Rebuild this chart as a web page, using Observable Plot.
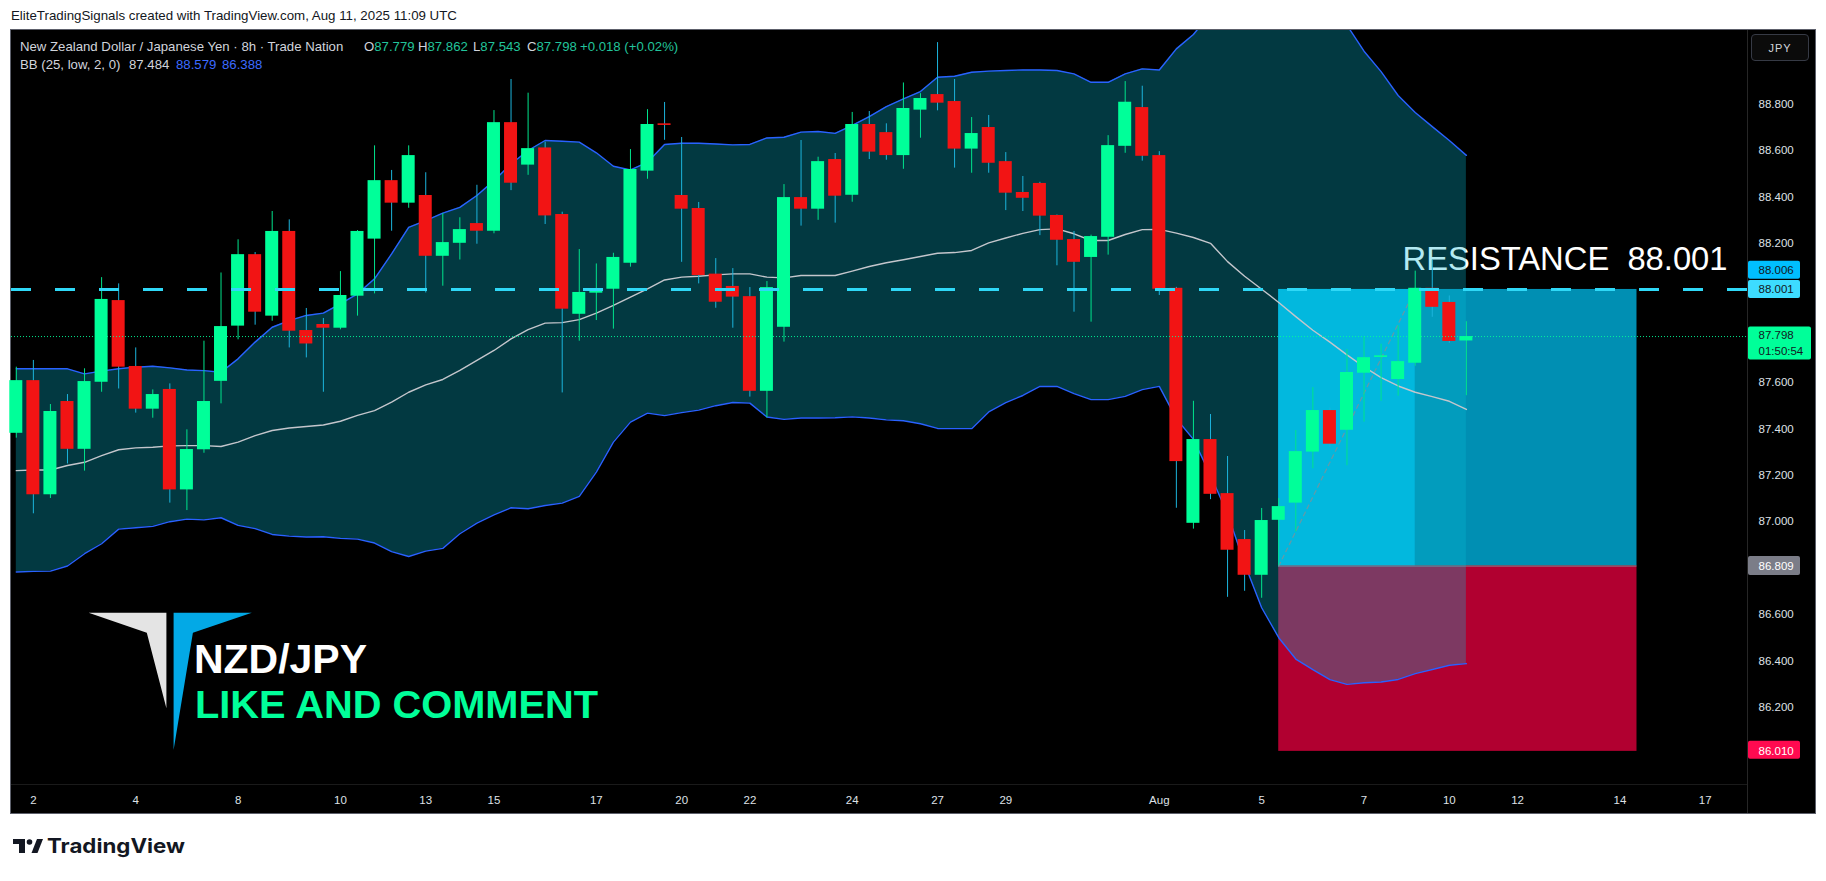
<!DOCTYPE html>
<html><head><meta charset="utf-8">
<script src="https://cdn.jsdelivr.net/npm/d3@7"></script>
<script src="https://cdn.jsdelivr.net/npm/@observablehq/plot@0.6"></script>
<style>
html,body{margin:0;padding:0;background:#fff;}
#page{position:relative;width:1826px;height:881px;overflow:hidden;background:#fff;font-family:"Liberation Sans",Arial,sans-serif;}
#title{position:absolute;left:11px;top:8px;font-size:13.3px;color:#131722;white-space:nowrap;}
#panel{position:absolute;left:10px;top:29px;width:1804px;height:783px;border:1px solid #5d606b;background:#000;}
#panel svg{position:absolute;left:0;top:0;}
.lg{position:absolute;font-size:13.2px;white-space:nowrap;color:#d1d4dc;line-height:14px;}
.v{color:#22c49b;}
.b{color:#3d6bff;}
#jpy{position:absolute;left:1751px;top:34px;width:58px;height:27px;border:1px solid #363a45;border-radius:4px;color:#d1d4dc;font-size:11px;letter-spacing:1px;text-align:center;line-height:27px;box-sizing:border-box;background:#0b0b0b;}
.sep{position:absolute;background:#262626;}
#overlay{position:absolute;left:0;top:0;}
</style></head>
<body>
<div id="page">
  <div id="title">EliteTradingSignals created with TradingView.com, Aug 11, 2025 11:09 UTC</div>
  <div id="panel"></div>
  <div class="sep" style="left:1747px;top:30px;width:1px;height:783px;"></div>
  <div class="sep" style="left:11px;top:784px;width:1736px;height:1px;background:#1a1a1a;"></div>
  <div class="lg" style="left:20px;top:40px;">New Zealand Dollar / Japanese Yen · 8h · Trade Nation</div>
  <div class="lg" style="left:364px;top:40px;">O<span class="v">87.779</span></div>
  <div class="lg" style="left:418px;top:40px;">H<span class="v">87.862</span></div>
  <div class="lg" style="left:473px;top:40px;">L<span class="v">87.543</span></div>
  <div class="lg" style="left:527px;top:40px;">C<span class="v">87.798</span></div>
  <div class="lg v" style="left:580px;top:40px;">+0.018 (+0.02%)</div>
  <div class="lg" style="left:20px;top:58px;">BB (25, low, 2, 0)</div>
  <div class="lg" style="left:129px;top:58px;">87.484</div>
  <div class="lg b" style="left:176px;top:58px;">88.579</div>
  <div class="lg b" style="left:222px;top:58px;">86.388</div>
  <div id="jpy">JPY</div>
  <svg id="overlay" width="1826" height="881">
    <polygon points="88.6,612.7 166.4,612.7 166.4,708.3 146.8,632.7" fill="#e4e4e4"/>
    <polygon points="173.6,612.7 251.8,612.7 192.9,632.7 173.6,750" fill="#03a9e6"/>
    <text x="194" y="673" font-family="Liberation Sans, Arial, sans-serif" font-size="40" font-weight="700" fill="#ffffff" textLength="173" lengthAdjust="spacingAndGlyphs">NZD/JPY</text>
    <text x="195" y="718" font-family="Liberation Sans, Arial, sans-serif" font-size="39" font-weight="700" fill="#00ff99" textLength="403" lengthAdjust="spacingAndGlyphs">LIKE AND COMMENT</text>
    <g fill="#131722">
      <path d="M13,839 H25 V853 H19 V844 H13 Z"/>
      <circle cx="29.5" cy="842" r="2.8"/>
      <path d="M37,839 H43 L37.5,853 H31.5 Z"/>
      <text x="47" y="853" font-family="Inter, Liberation Sans, Arial, sans-serif" font-size="20" font-weight="700" textLength="138" lengthAdjust="spacingAndGlyphs">TradingView</text>
    </g>
  </svg>
</div>
<script>
// ---------- data ----------
const opens  = [87.381,87.608,87.116,87.518,87.312,87.601,87.953,87.669,87.485,87.570,87.137,87.310,87.605,87.843,88.151,87.886,88.251,87.824,87.850,87.834,87.972,88.218,88.470,88.373,88.406,88.144,88.200,88.285,88.252,88.720,88.537,88.611,88.324,87.894,87.985,88.002,88.114,88.511,88.711,88.406,88.350,88.067,88.014,87.970,87.562,87.838,88.397,88.347,88.561,88.407,88.712,88.677,88.578,88.774,88.841,88.811,88.606,88.699,88.552,88.419,88.458,88.320,88.216,88.139,88.226,88.618,88.785,88.578,88.006,86.993,87.354,87.121,86.923,86.769,87.006,87.080,87.300,87.479,87.394,87.640,87.708,87.613,87.683,88.006,87.945,87.779];
const highs  = [87.666,87.695,87.505,87.548,87.659,88.052,88.025,87.749,87.568,87.594,87.396,87.778,88.072,88.215,88.160,88.337,88.301,87.919,87.876,88.078,88.255,88.620,88.514,88.620,88.504,88.328,88.310,88.450,88.772,88.906,88.847,88.636,88.334,88.173,88.111,88.157,88.604,88.776,88.807,88.656,88.376,88.134,88.091,88.009,88.035,88.453,88.643,88.571,88.587,88.764,88.768,88.715,88.891,88.845,89.065,88.906,88.742,88.751,88.591,88.488,88.463,88.322,88.251,88.235,88.664,88.897,88.877,88.595,88.010,87.519,87.462,87.281,86.962,87.057,87.100,87.393,87.578,87.490,87.742,87.797,87.765,87.844,88.080,88.128,87.973,87.862];
const lows   = [87.360,87.034,87.100,87.249,87.218,87.558,87.572,87.468,87.446,87.080,87.048,87.295,87.508,87.784,87.847,87.864,87.749,87.706,87.558,87.827,87.886,87.982,88.252,88.351,87.986,88.015,88.128,88.196,88.241,88.427,88.493,88.281,87.555,87.778,87.867,87.830,88.097,88.476,88.644,88.118,88.025,87.920,87.834,87.537,87.447,87.774,88.274,88.299,88.287,88.377,88.561,88.558,88.519,88.653,88.771,88.524,88.502,88.502,88.341,88.337,88.233,88.103,87.903,87.860,88.149,88.588,88.554,87.975,87.058,86.968,87.095,86.674,86.700,86.670,86.811,86.955,87.228,87.320,87.241,87.429,87.519,87.541,87.670,87.881,87.769,87.543];
const closes = [87.608,87.116,87.475,87.312,87.604,87.958,87.666,87.485,87.548,87.137,87.311,87.518,87.841,88.151,87.903,88.251,87.821,87.766,87.834,87.975,88.251,88.470,88.373,88.578,88.144,88.203,88.259,88.252,88.720,88.459,88.608,88.318,87.916,87.988,88.002,88.139,88.518,88.712,88.708,88.347,88.061,87.946,87.968,87.562,88.009,88.397,88.347,88.552,88.403,88.712,88.593,88.578,88.781,88.824,88.804,88.606,88.673,88.545,88.416,88.394,88.317,88.213,88.118,88.229,88.621,88.808,88.575,88.002,87.259,87.354,87.118,86.877,86.769,87.005,87.065,87.302,87.479,87.334,87.643,87.707,87.712,87.690,88.006,87.924,87.777,87.798];

const bbUpper  = [87.659,87.659,87.659,87.659,87.637,87.649,87.659,87.666,87.670,87.663,87.654,87.651,87.644,87.702,87.774,87.838,87.867,87.889,87.899,87.939,87.982,88.047,88.154,88.269,88.298,88.330,88.355,88.406,88.470,88.542,88.600,88.643,88.640,88.636,88.590,88.532,88.516,88.549,88.626,88.631,88.631,88.628,88.624,88.626,88.654,88.657,88.679,88.682,88.674,88.708,88.746,88.789,88.822,88.854,88.916,88.920,88.937,88.942,88.945,88.947,88.947,88.945,88.930,88.894,88.894,88.930,88.952,88.947,89.038,89.10,89.19,89.21,89.30,89.37,89.39,89.36,89.29,89.23,89.14,89.028,88.940,88.837,88.764,88.703,88.643,88.579];
const bbMiddle = [87.220,87.223,87.223,87.242,87.256,87.285,87.310,87.318,87.321,87.327,87.328,87.328,87.324,87.343,87.371,87.393,87.404,87.410,87.417,87.433,87.458,87.479,87.515,87.558,87.590,87.613,87.652,87.695,87.738,87.788,87.828,87.856,87.858,87.871,87.899,87.932,87.968,88.004,88.042,88.054,88.058,88.064,88.068,88.068,88.054,88.051,88.061,88.061,88.061,88.080,88.100,88.116,88.129,88.143,88.157,88.160,88.169,88.202,88.223,88.243,88.259,88.262,88.241,88.212,88.212,88.238,88.259,88.260,88.244,88.225,88.200,88.121,88.058,88.002,87.945,87.884,87.825,87.774,87.719,87.667,87.621,87.585,87.558,87.539,87.519,87.484];
const bbLower  = [86.783,86.786,86.787,86.809,86.862,86.905,86.968,86.974,86.980,87.000,87.011,87.008,87.017,86.984,86.970,86.945,86.938,86.934,86.935,86.928,86.925,86.908,86.871,86.850,86.873,86.885,86.948,86.994,87.029,87.060,87.056,87.070,87.080,87.109,87.214,87.343,87.429,87.468,87.457,87.470,87.481,87.500,87.514,87.511,87.451,87.441,87.447,87.447,87.448,87.452,87.447,87.439,87.435,87.422,87.402,87.401,87.401,87.473,87.513,87.544,87.583,87.583,87.552,87.526,87.526,87.540,87.569,87.583,87.444,87.355,87.200,87.034,86.819,86.629,86.500,86.408,86.362,86.319,86.299,86.306,86.309,86.320,86.345,86.363,86.381,86.388];

const timeTickIndex  = [1,7,13,19,24,28,34,39,43,49,54,58,67,73,79,84,88,94,99];
const timeTickLabels = ["2","4","8","10","13","15","17","20","22","24","27","29","Aug","5","7","10","12","14","17"];
const priceTicks = [88.8,88.6,88.4,88.2,87.6,87.4,87.2,87.0,86.6,86.4,86.2];

const tagPrices = [88.006, 88.001, 87.798, 86.809, 86.010];
const tagTexts  = ["88.006", "88.001", "87.798", "86.809", "86.010"];
const countdownText = "01:50:54";

const resistanceLevel = 88.001;
const resistanceLabel = "RESISTANCE  88.001";
const currentPrice = 87.798;

const positionEntry = 86.809, positionTarget = 88.001, positionStop = 86.010;
const positionStartIndex = 74, positionHitIndex = 82, positionEndIndex = 95;

// ---------- layout ----------
const W = 1804, H = 783, MR = 68, MB = 29;
const plotW = W - MR, plotH = H - MB;
const xDomain = [-0.2814, 101.478];
const yDomain = [85.8672, 89.1172];
const pxToIdx = px => xDomain[0] + px * (xDomain[1] - xDomain[0]) / plotW;
const ppu = plotH / (yDomain[1] - yDomain[0]);
const dPrice = px => px / ppu;

const candles = opens.map((o, i) => ({i, o, h: highs[i], l: lows[i], c: closes[i], up: closes[i] >= o}));
const bb = bbUpper.map((u, i) => ({i, u, m: bbMiddle[i], lo: bbLower[i]}));

const tagStyle = [
  {bg: "#00bfff", fg: "#131722", shift: -18, top: -9, bottom: 9, right: 1789},
  {bg: "#3ddcff", fg: "#131722", shift: 0, top: -9, bottom: 9, right: 1789},
  {bg: "#00ff99", fg: "#131722", shift: 0, top: -9.5, bottom: 23.5, right: 1800},
  {bg: "#7b7d88", fg: "#ffffff", shift: 0, top: -9.5, bottom: 9.5, right: 1789},
  {bg: "#ff0a50", fg: "#ffffff", shift: 0, top: -10, bottom: 8, right: 1789}
];
const tags = tagPrices.map((p, k) => ({p, text: tagTexts[k], ...tagStyle[k]}));
const minBody = dPrice(1.6);
const bodyHalf = 6.5 / (plotW / (xDomain[1] - xDomain[0]));

const chart = Plot.plot({
  width: W, height: H,
  marginTop: 0, marginLeft: 0, marginRight: MR, marginBottom: MB,
  style: {background: "transparent", color: "#dfe1e6", fontSize: "11.5px", fontFamily: "Liberation Sans, Arial, sans-serif", overflow: "visible"},
  x: {type: "linear", domain: xDomain, ticks: timeTickIndex,
      tickFormat: d => timeTickLabels[timeTickIndex.indexOf(d)], tickSize: 0, tickPadding: 11, label: null},
  y: {type: "linear", domain: yDomain, ticks: priceTicks, tickFormat: d => d.toFixed(3),
      axis: "right", tickSize: 0, tickPadding: 11, label: null},
  marks: [
    // position tool
    Plot.rect([0], {x1: positionStartIndex, x2: positionEndIndex, y1: positionEntry, y2: positionTarget, fill: "#008fb3"}),
    Plot.rect([0], {x1: positionStartIndex, x2: positionHitIndex, y1: positionEntry, y2: positionTarget, fill: "#00b7e3"}),
    Plot.rect([0], {x1: positionStartIndex, x2: positionEndIndex, y1: positionStop, y2: positionEntry, fill: "#b10030"}),
    Plot.ruleY([positionEntry], {x1: positionStartIndex, x2: positionEndIndex, stroke: "#8c8f99", strokeWidth: 1}),
    Plot.line([[positionStartIndex, positionEntry], [positionHitIndex, positionTarget]],
      {x: d => d[0], y: d => d[1], stroke: "#8a8d96", strokeWidth: 1.3, strokeDasharray: "4,4"}),
    // resistance label
    Plot.text([resistanceLevel], {y: d => d, text: () => resistanceLabel, frameAnchor: "right", textAnchor: "end",
      dx: -20, dy: -30, fill: "#ffffff", fontSize: 33, fontFamily: "Liberation Sans, Arial, sans-serif"}),
    // Bollinger band fill and lines
    Plot.areaY(bb, {x: "i", y1: "lo", y2: "u", fill: "rgb(7,186,213)", fillOpacity: 0.305, clip: true}),
    Plot.line(bb, {x: "i", y: "m", stroke: "#c4c6cc", strokeWidth: 1.4, clip: true}),
    Plot.line(bb, {x: "i", y: "u", stroke: "#2962ff", strokeWidth: 1.4, clip: true}),
    Plot.line(bb, {x: "i", y: "lo", stroke: "#2962ff", strokeWidth: 1.4, clip: true}),
    // candles
    Plot.ruleX(candles, {x: "i", y1: "l", y2: "h", stroke: d => d.up ? "#00e48c" : "#1cb4dc", strokeWidth: 1}),
    Plot.rect(candles, {x1: d => d.i - bodyHalf, x2: d => d.i + bodyHalf,
      y1: d => Math.min(d.o, d.c), y2: d => Math.max(Math.max(d.o, d.c), Math.min(d.o, d.c) + minBody),
      fill: d => d.up ? "#00ff99" : "#f21414"}),
    // price lines
    Plot.ruleY([currentPrice], {stroke: "#00ff99", strokeWidth: 1, strokeDasharray: "1,2", strokeOpacity: 0.9}),
    Plot.ruleY([resistanceLevel], {stroke: "#2fd8f7", strokeWidth: 3, strokeDasharray: "20,24"}),
    // price tags on the axis
    Plot.rect(tags, {x1: pxToIdx(plotW + 1), x2: d => pxToIdx(d.right - 0),
      y1: d => d.p - dPrice(d.shift + d.bottom), y2: d => d.p - dPrice(d.shift + d.top), fill: "bg", rx: 2}),
    Plot.text(tags, {y: d => d.p - dPrice(d.shift + (d.bottom > 15 ? -1 : 0)), text: "text", frameAnchor: "right", dx: 11,
      textAnchor: "start", fill: "fg", fontSize: 11.5}),
    Plot.text(tags.filter(d => d.bottom > 15), {y: d => d.p - dPrice(15), text: () => countdownText, frameAnchor: "right", dx: 11,
      textAnchor: "start", fill: "fg", fontSize: 11.5})
  ]
});

document.getElementById("panel").appendChild(chart);
d3.select(chart).selectAll("text").each(function() {
  if (this.textContent === resistanceLabel) {
    this.setAttribute("textLength", 325);
    this.setAttribute("lengthAdjust", "spacingAndGlyphs");
    this.style.whiteSpace = "pre";
  }
});
</script>
</body></html>
